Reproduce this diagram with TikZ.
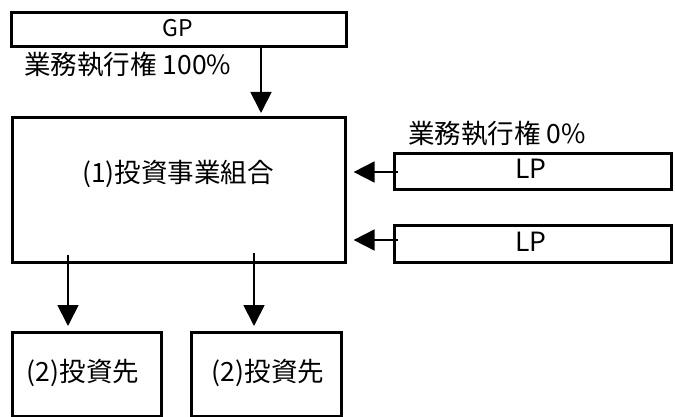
\documentclass[tikz,border=0pt]{standalone}
\usepackage{fontspec}
\setmainfont{Noto Sans CJK JP}
\usetikzlibrary{arrows.meta}
\tikzset{
  box/.style={draw=black, line width=2.6pt, inner sep=0pt, anchor=north west},
  txt/.style={inner sep=0pt, font=\fontsize{26.5}{30}\selectfont},
  arr/.style={line width=1.8pt, -{Triangle[length=21pt,width=21pt]}},
}
\begin{document}
\begin{tikzpicture}[x=1pt,y=-1pt]
\useasboundingbox (0,0) rectangle (675,417);
% boxes
\node[box, minimum width=335pt, minimum height=34pt] (gp) at (10,11) {};
\node[txt, font=\fontsize{23}{26}\selectfont] (gplbl) at (178,28) {GP};
\node[box, minimum width=333pt, minimum height=145pt] (main) at (11,116) {};
\node[txt] (mainlbl) at (178,174) {(1)投資事業組合};
\node[box, minimum width=277pt, minimum height=36pt] (lp1) at (393,152) {};
\node[txt] (lp1lbl) at (531,169) {LP};
\node[box, minimum width=277pt, minimum height=37pt] (lp2) at (393,224) {};
\node[txt] (lp2lbl) at (531,242) {LP};
\node[box, minimum width=149pt, minimum height=84pt] (inv1) at (11,331) {};
\node[txt] (inv1lbl) at (83,373) {(2)投資先};
\node[box, minimum width=150pt, minimum height=84pt] (inv2) at (190,331) {};
\node[txt] (inv2lbl) at (268,373) {(2)投資先};
% labels
\node[txt, anchor=west] (l100) at (24,65) {業務執行権 100\%};
\node[txt, anchor=west] (l0) at (408,134) {業務執行権 0\%};
% arrows
\coordinate (a1) at (261,48);
\draw[arr, shorten >=3pt] (a1) -- (a1 |- main.north);
\coordinate (b1) at (398,172);
\draw[arr, shorten >=7pt] (b1) -- (b1 -| main.east);
\coordinate (b2) at (398,240);
\draw[arr, shorten >=7pt] (b2) -- (b2 -| main.east);
\coordinate (c1) at (68,255);
\draw[arr, shorten >=5pt] (c1) -- (c1 |- inv1.north);
\coordinate (c2) at (254,253);
\draw[arr, shorten >=5pt] (c2) -- (c2 |- inv2.north);
\end{tikzpicture}
\end{document}
